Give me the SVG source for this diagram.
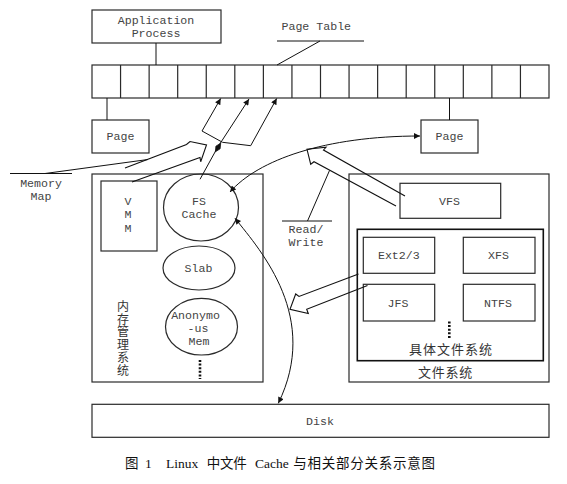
<svg xmlns="http://www.w3.org/2000/svg" width="567" height="484" viewBox="0 0 567 484">
<style>
.bx{fill:none;stroke:#2a2a2a;stroke-width:1.2}
.ln{fill:none;stroke:#111;stroke-width:1}
.ha{fill:none;stroke:#111;stroke-width:1.1;stroke-linejoin:miter}
.m{font-family:"Liberation Mono","DejaVu Sans Mono",monospace;font-size:11.6px;fill:#444;text-anchor:middle}
.ml{font-family:"Liberation Mono","DejaVu Sans Mono",monospace;font-size:11.6px;fill:#444}
.cj{font-family:"Liberation Serif","Noto Sans CJK SC",serif;font-size:12px;fill:#333;text-anchor:middle;dominant-baseline:central}
.cap{font-family:"Liberation Serif","Noto Sans CJK SC",serif;font-size:13.5px;fill:#111}
.dots{fill:none;stroke:#111;stroke-width:2.6;stroke-dasharray:2 1.6}
</style>
<defs>
<marker id="ah" viewBox="0 0 10 10" refX="10" refY="5" markerWidth="9" markerHeight="6" markerUnits="userSpaceOnUse" orient="auto-start-reverse">
<path d="M0,0 L10,5 L0,10 z" fill="#111"/>
</marker>
</defs>
<rect width="567" height="484" fill="#fff"/>

<g id="app-process">
<rect class="bx" x="92" y="10" width="129" height="33"/>
<text class="m" x="156" y="23.5">Application</text>
<text class="m" x="156" y="36.5">Process</text>
</g>

<g id="page-table">
<rect class="bx" x="92" y="65" width="457" height="33"/>
<path class="bx" d="M120.56,65V98M149.13,65V98M177.69,65V98M206.25,65V98M234.81,65V98M263.38,65V98M291.94,65V98M320.5,65V98M349.06,65V98M377.63,65V98M406.19,65V98M434.75,65V98M463.31,65V98M491.88,65V98M520.44,65V98"/>
</g>

<g id="page-table-label">
<text class="ml" x="281.5" y="30">Page Table</text>
<path class="ln" d="M277,41H364M320,41L277,65"/>
</g>

<g id="page-left">
<rect class="bx" x="92" y="120" width="57" height="33"/>
<text class="m" x="120.5" y="140">Page</text>
</g>

<g id="page-right">
<rect class="bx" x="421" y="120" width="57" height="33"/>
<text class="m" x="449.5" y="140">Page</text>
</g>

<g id="memory-map-label">
<text class="m" x="41" y="187">Memory</text>
<text class="m" x="41" y="200">Map</text>
<path class="ln" d="M10,173.5H72M45,173.5L148,159.5"/>
</g>

<g id="read-write-label">
<text class="m" x="306" y="233">Read/</text>
<text class="m" x="306" y="245.5">Write</text>
<path class="ln" d="M282,221H332M329.5,170.5L307.5,221"/>
</g>

<g id="memory-system">
<rect class="bx" x="92" y="174" width="171" height="208"/>
<text class="cj" x="123" y="306.7">内</text>
<text class="cj" x="123" y="319.5">存</text>
<text class="cj" x="123" y="332.3">管</text>
<text class="cj" x="123" y="345">理</text>
<text class="cj" x="123" y="357.8">系</text>
<text class="cj" x="123" y="370.6">统</text>
</g>

<g id="vmm">
<rect class="bx" x="101" y="181" width="56" height="70"/>
<text class="m" x="128" y="204.5">V</text>
<text class="m" x="128" y="218">M</text>
<text class="m" x="128" y="231.5">M</text>
</g>

<g id="fs-cache">
<ellipse class="bx" cx="201" cy="207.5" rx="37.5" ry="33.5"/>
<text class="m" x="199" y="204.5">FS</text>
<text class="m" x="199" y="217.5">Cache</text>
</g>

<g id="slab">
<ellipse class="bx" cx="199" cy="268" rx="36" ry="22"/>
<text class="m" x="198.5" y="272">Slab</text>
</g>

<g id="anonymous-mem">
<ellipse class="bx" cx="201.5" cy="326.7" rx="36" ry="28.3"/>
<text class="m" x="195.5" y="319">Anonymo</text>
<text class="m" x="198" y="332">-us</text>
<text class="m" x="199" y="345">Mem</text>
</g>
<path class="dots" d="M200,360V379"/>

<g id="file-system">
<rect class="bx" x="349" y="174" width="200" height="208"/>
<text class="cj" x="445.5" y="372.3" style="font-size:13px;letter-spacing:0.7px">文件系统</text>
</g>

<g id="vfs">
<rect class="bx" x="400" y="183.3" width="100.7" height="35"/>
<text class="m" x="449.5" y="205">VFS</text>
</g>

<g id="concrete-fs">
<rect x="357.3" y="229.3" width="186" height="131.4" fill="none" stroke="#111" stroke-width="1.6"/>
<text class="cj" x="451" y="349.3" style="font-size:13px;letter-spacing:1px">具体文件系统</text>
</g>

<g id="ext23">
<rect class="bx" x="363.3" y="237.3" width="71.4" height="36"/>
<text class="m" x="398.8" y="258.5">Ext2/3</text>
</g>

<g id="xfs">
<rect class="bx" x="463.3" y="237.3" width="71.7" height="36"/>
<text class="m" x="498.5" y="258.5">XFS</text>
</g>

<g id="jfs">
<rect class="bx" x="363.3" y="284.3" width="71.4" height="36.7"/>
<text class="m" x="398" y="306.8">JFS</text>
</g>

<g id="ntfs">
<rect class="bx" x="463.3" y="284.3" width="71.7" height="36.7"/>
<text class="m" x="498" y="306.8">NTFS</text>
</g>
<path class="dots" d="M449.3,321.5V339"/>

<g id="disk">
<rect class="bx" x="92" y="404.3" width="457" height="33"/>
<text class="m" x="320" y="424.5">Disk</text>
</g>

<g id="connectors">
<path class="ln" d="M156,43V65"/>
<path class="ln" d="M107,98V120"/>
<path class="ln" d="M449.5,98V120"/>
<path class="ln" d="M200,179.3L217.5,147.5L249,99" marker-end="url(#ah)"/>
<path class="ln" d="M222.5,142.3L202,131L220.7,98.5" marker-end="url(#ah)"/>
<path class="ln" d="M222.5,142.3L250.7,145.7L276.7,98.5" marker-end="url(#ah)"/>
<polygon points="220.7,143.2 220.1,148.8 215.4,151.8 215.9,146.2" fill="#111" stroke="#111" stroke-width="0.8"/>
<path class="ha" d="M125,168L186.5,144.5L190,141.5L206.5,145L200.7,161.7L200,157.6L132,182"/>
<path class="ha" d="M405,196L323.5,150L326,147.3L307,149.3L310.7,164.2L314,161.7L396,206"/>
<path class="ha" d="M358.5,274L299,296.5L295.7,294L290,309.3L308.3,313.5L306.7,309.3L367.5,285.5"/>
<path class="ln" d="M230,192C258,160 325,136 420,136" marker-start="url(#ah)" marker-end="url(#ah)"/>
<path class="ln" d="M235,218.3C262,252 320,318 278.3,403.3" marker-start="url(#ah)" marker-end="url(#ah)"/>
</g>

<g id="caption">
<text class="cap" x="125" y="468">图</text>
<text class="cap" x="145" y="468">1</text>
<text class="cap" x="166" y="468">Linux</text>
<text class="cap" x="206.7" y="468" textLength="40" lengthAdjust="spacing">中文件</text>
<text class="cap" x="255" y="468">Cache</text>
<text class="cap" x="293.3" y="468" textLength="141.7" lengthAdjust="spacing">与相关部分关系示意图</text>
</g>
</svg>
